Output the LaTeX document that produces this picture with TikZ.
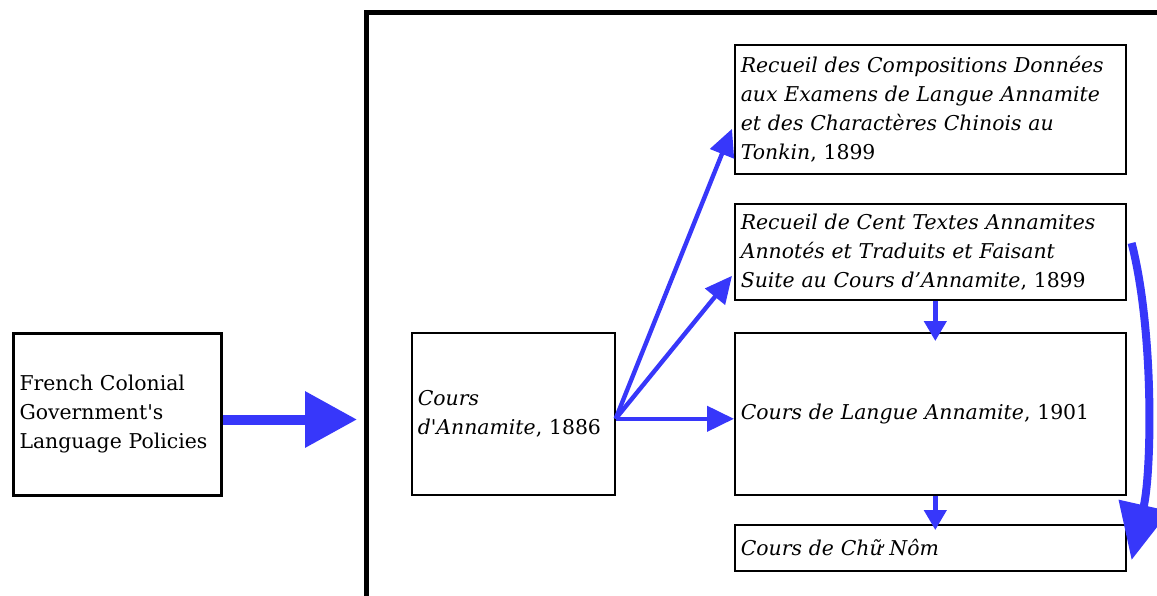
\documentclass[tikz,border=0pt]{standalone}
\usepackage{fontspec}
\setmainfont{DejaVu Serif}
\usetikzlibrary{arrows.meta,calc}
\definecolor{arrowblue}{RGB}{55,55,250}

\begin{document}
\begin{tikzpicture}[x=0.5pt,y=-0.5pt]
\tikzset{src/.style={draw, line width=1.5pt, minimum width=104pt, minimum height=81pt, text width=98pt, inner xsep=3pt, align=left, anchor=north west}}
\tikzset{book/.style={draw, line width=0.8pt, inner xsep=3pt, align=left, anchor=north west}}
\tikzset{fan/.style={arrowblue, line width=2.2pt, -{Triangle[length=13.5pt,width=12.5pt]}}}
\tikzset{down/.style={arrowblue, line width=2.2pt, -{Triangle[length=10pt,width=11pt]}}}
\tikzstyle{every node}=[font=\fontsize{10.2}{14.5}\selectfont]
\useasboundingbox (0,0) rectangle (1157,595);
\clip (0,0) rectangle (1157,595);
\draw[line width=2.5pt] (366,600) -- (366,12) -- (1165,12);
\node[src] (policy) at (12,332) {French Colonial\\Government\textquotesingle s\\Language Policies};
\coordinate (frame) at (357,0);
\node[book, minimum width=101.5pt, minimum height=81pt, text width=95.5pt] (cours) at (411,332)
  {\textit{Cours}\\\textit{d\textquotesingle Annamite}, 1886};
\node[book, minimum width=195.5pt, minimum height=64.5pt, text width=189.5pt] (recueil) at (734,44)
  {\textit{Recueil des Compositions Données}\\\textit{aux Examens de Langue Annamite}\\\textit{et des Charactères Chinois au}\\\textit{Tonkin}, 1899};
\node[book, minimum width=195.5pt, minimum height=48pt, text width=189.5pt] (cent) at (734,203)
  {\textit{Recueil de Cent Textes Annamites}\\\textit{Annotés et Traduits et Faisant}\\\textit{Suite au Cours d’Annamite}, 1899};
\node[book, minimum width=195.5pt, minimum height=81pt, text width=189.5pt] (langue) at (734,332)
  {\textit{Cours de Langue Annamite}, 1901};
\node[book, minimum width=195.5pt, minimum height=23pt, text width=189.5pt] (nom) at (734,524)
  {\textit{Cours de Chữ Nôm}};
\coordinate (out) at ([yshift=-2.5pt]policy.east);
\draw[arrowblue, line width=5pt, -{Triangle[length=26pt,width=27pt]}] (out) -- (out -| frame);
\coordinate (start) at ([yshift=-2.5pt]cours.east);
\draw[fan] (start) -- ([xshift=-1pt,yshift=-9.75pt]recueil.west);
\draw[fan] (start) -- ([xshift=-1pt,yshift=-12pt]cent.west);
\draw[fan] (start) -- (start -| langue.west);
\draw[down] ([xshift=2.5pt]cent.south) -- ([xshift=2.5pt,yshift=-4.5pt]langue.north);
\draw[down] ([xshift=2.5pt]langue.south) -- ([xshift=2.5pt,yshift=-3pt]nom.north);
\draw[arrowblue, line width=4pt, -{Triangle[length=28pt,width=25pt]}]
  ([xshift=2.5pt,yshift=-20pt]cent.north east) .. controls (1154,330) and (1152,470) .. ([xshift=2.5pt,yshift=-18pt]nom.north east);
\end{tikzpicture}
\end{document}
